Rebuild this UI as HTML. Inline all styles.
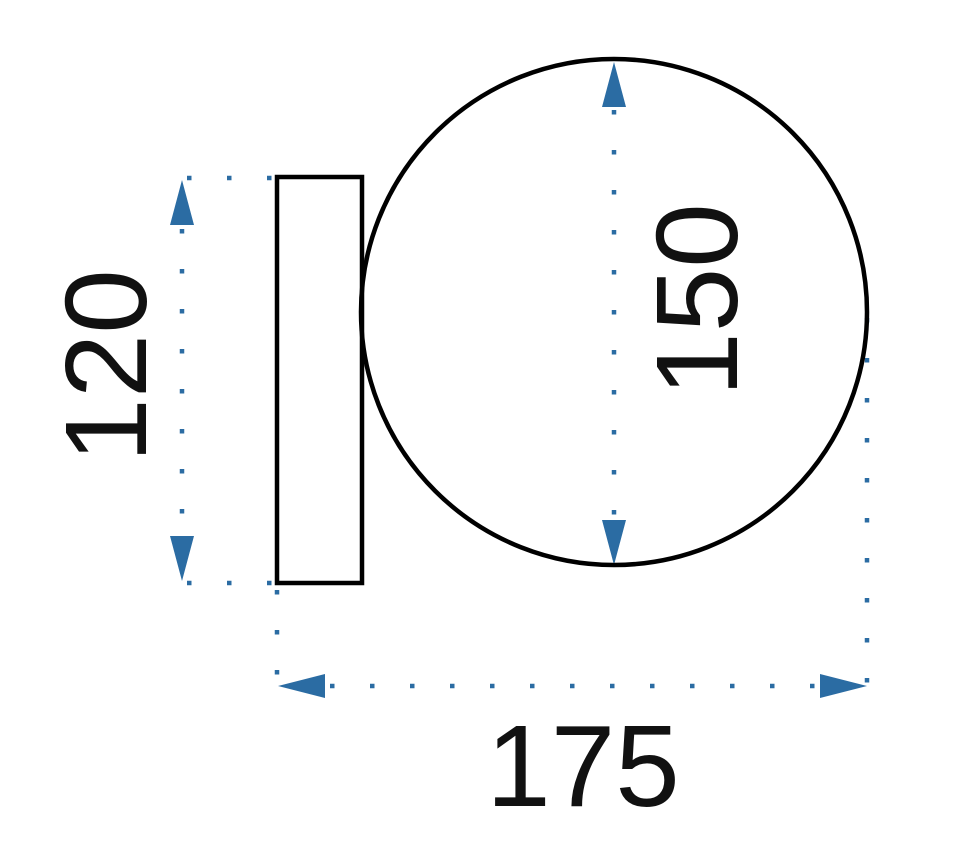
<!DOCTYPE html>
<html><head><style>html,body{margin:0;padding:0;background:#fff;}svg{display:block}</style></head>
<body>
<svg width="970" height="843" viewBox="0 0 970 843" xmlns="http://www.w3.org/2000/svg">
<g stroke="#2b6ca3" stroke-width="4.5" stroke-dasharray="4.5 35.5" fill="none">
<line x1="187" y1="178" x2="277" y2="178"/>
<line x1="187" y1="583" x2="277" y2="583"/>
<line x1="182" y1="229" x2="182" y2="535"/>
<line x1="614" y1="110" x2="614" y2="520"/>
<line x1="867" y1="318" x2="867" y2="686"/>
<line x1="277" y1="590" x2="277" y2="686"/>
<line x1="330" y1="686" x2="820" y2="686"/>
</g>
<g fill="#2b6ca3">
<polygon points="182,180 170,225 194,225"/>
<polygon points="182,581 170,536 194,536"/>
<polygon points="614,62 602,107 626,107"/>
<polygon points="614,565 602,520 626,520"/>
<polygon points="278,686 325,674 325,698"/>
<polygon points="867,686 820,674 820,698"/>
</g>
<rect x="277" y="177" width="85" height="406" fill="none" stroke="#000" stroke-width="4.5"/>
<circle cx="614" cy="312" r="253" fill="none" stroke="#000" stroke-width="4.5"/>
<g font-family="Liberation Sans, sans-serif" font-size="116" fill="#111" text-anchor="middle">
<text x="583" y="806">175</text>
<text transform="translate(146,366) rotate(-90)">120</text>
<text transform="translate(737,300) rotate(-90)">150</text>
</g>
</svg>
</body></html>
